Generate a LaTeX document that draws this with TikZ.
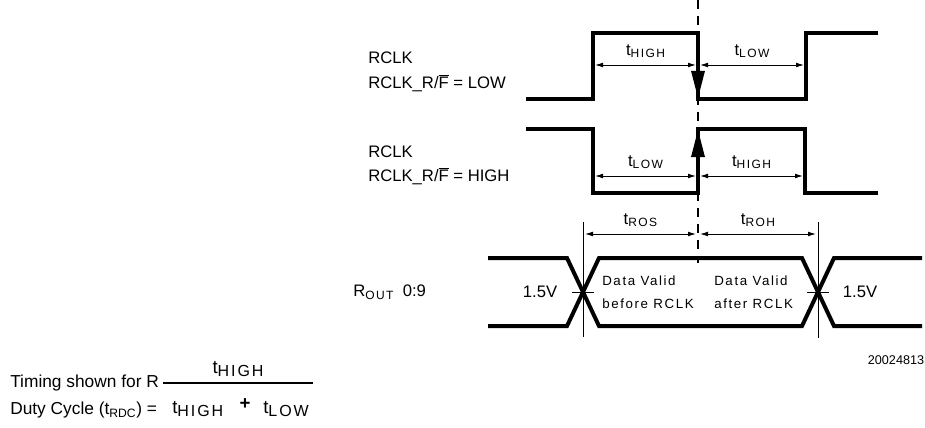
\documentclass[tikz,border=0pt]{standalone}
\usepackage{fontspec}
\setmainfont{Liberation Sans}
\newfontfamily\spacedfont[LetterSpace=12]{Liberation Sans}
\usepackage{tikz}
\usetikzlibrary{calc}
\usetikzlibrary{positioning}
\usetikzlibrary{arrows.meta}

\newcommand{\tsub}[1]{t\raisebox{-0.3ex}{\spacedfont\fontsize{9}{10}\selectfont #1}}
\newcommand{\tbig}[1]{t\raisebox{-0.25ex}{\spacedfont\fontsize{12}{14}\selectfont #1}}
\newcommand{\fbar}{$\overline{\mbox{F}}$}

\begin{document}
\begin{tikzpicture}[x=0.75pt, y=-0.75pt]

        \useasboundingbox (0,0) rectangle (925,428);

        % Looks of the waveforms, the timing arrows and the texts
        \tikzset{
            wave/.style={line width=3pt, line join=miter},
            dim/.style={line width=0.7pt, shorten <=1.5pt, shorten >=1.5pt,
                {Latex[length=6pt,width=3.6pt]}-{Latex[length=6pt,width=3.6pt]}},
            edgetip/.style={line width=3pt, -{Triangle[length=21pt,width=9.5pt]}},
            guide/.style={line width=0.6pt},
            lbl/.style={font=\fontsize{12.5}{15}\selectfont, inner sep=0pt},
            tlbl/.style={font=\fontsize{12.5}{15}\selectfont, inner sep=0pt, above=5pt}
        }

        % Scope used for the points of the three waveforms
        \begin{scope}
            \foreach \x/\y [count=\i from 0] in {526/99, 593/99, 593/33, 698/33,
                698/99, 806/99, 806/33, 878/33}
            \coordinate (A\i) at (\x,\y);
            \foreach \x/\y [count=\i from 0] in {526/129, 593/129, 593/193, 698/193,
                698/129, 805/129, 805/193, 878/193}
            \coordinate (B\i) at (\x,\y);
            \foreach \x/\y [count=\i from 0] in {488/258, 567/258, 599/326, 802/326,
                834/258, 922/258}
            \coordinate (P\i) at (\x,\y);
            \foreach \x/\y [count=\i from 0] in {488/326, 567/326, 599/258, 802/258,
                834/326, 922/326}
            \coordinate (Q\i) at (\x,\y);

            \coordinate (D0) at (698,0);
            \coordinate (D1) at (698,263);
            \coordinate (G1) at (583,222);
            \coordinate (G2) at (583,337);
            \coordinate (G3) at (818,222);
            \coordinate (G4) at (818,338);
            \coordinate (K1) at (572,292);
            \coordinate (K2) at (594,292);
            \coordinate (K3) at (807,292);
            \coordinate (K4) at (829,292);
        \end{scope}

        % Signal names
        \node (N1) [lbl, anchor=west] at (368,58) {RCLK};
        \node (N2) [lbl, anchor=west] at (368,83) {RCLK\_R/\fbar{} = LOW};
        \node (N3) [lbl, anchor=west] at (368,152) {RCLK};
        \node (N4) [lbl, anchor=west] at (368,176) {RCLK\_R/\fbar{} = HIGH};
        \node (N5) [lbl, anchor=west] at (353,292)
        {R\raisebox{-0.3ex}{\spacedfont\fontsize{9}{10}\selectfont OUT}\ \ 0:9};

        % Waveforms
        \begin{scope}[wave]
            \draw (A0) \foreach \i in {1,...,7} {-- (A\i)};
            \draw (B0) \foreach \i in {1,...,7} {-- (B\i)};
            \draw (P0) \foreach \i in {1,...,5} {-- (P\i)};
            \draw (Q0) \foreach \i in {1,...,5} {-- (Q\i)};
        \end{scope}
        \draw[edgetip] (A3) -- (A4);
        \draw[edgetip] (B3) -- (B4);

        % Reference lines
        \draw[line width=1.2pt, dash pattern=on 7pt off 5pt] (D0) -- (D1);
        \begin{scope}[guide]
            \draw (G1) -- (G2);
            \draw (G3) -- (G4);
            \draw (K1) -- (K2);
            \draw (K3) -- (K4);
        \end{scope}

        % Timing arrows
        \draw[dim] (A1 |- 0,65) -- node[tlbl] {\tsub{HIGH}} (A3 |- 0,65);
        \draw[dim] (A4 |- 0,65) -- node[tlbl] {\tsub{LOW}} (A5 |- 0,65);
        \draw[dim] (B1 |- 0,176) -- node[tlbl] {\tsub{LOW}} (B3 |- 0,176);
        \draw[dim] (B4 |- 0,176) -- node[tlbl] {\tsub{HIGH}} (B5 |- 0,176);
        \draw[dim] (G1 |- 0,234) -- node[tlbl] {\tsub{ROS}} (D0 |- 0,234);
        \draw[dim] (D0 |- 0,234) -- node[tlbl] {\tsub{ROH}} (G3 |- 0,234);

        % Texts on the data lines
        \node (V1) [lbl] at (540,292) {1.5V};
        \node (V2) [lbl] at (860,292) {1.5V};
        \node (DV1) [lbl, anchor=west, align=left,
            font=\spacedfont\fontsize{10}{17}\selectfont] at (602,292)
        {Data Valid\\before RCLK};
        \node (DV2) [lbl, anchor=west, align=left,
            font=\spacedfont\fontsize{10}{17}\selectfont] at (714,292)
        {Data Valid\\after RCLK};
        \node (ID) [font=\fontsize{9.5}{11}\selectfont, inner sep=0pt]
        at (896,360) {20024813};

        % Duty cycle formula
        \node (L1) [anchor=west, inner sep=0pt, font=\fontsize{13}{15}\selectfont]
        at (10,383) {Timing shown for R};
        \node (L2) [anchor=west, inner sep=0pt, font=\fontsize{13}{15}\selectfont]
        at (10,410) {Duty Cycle (t\textsubscript{RDC}) =};
        \coordinate (F0) at (163,383);
        \coordinate (F1) at (313,383);
        \draw[line width=1.1pt] (F0) -- (F1);
        \node (FN) [inner sep=0pt, font=\fontsize{14}{16}\selectfont]
        at (238,369) {\tbig{HIGH}};
        \node (FD1) [inner sep=0pt, anchor=west, font=\fontsize{14}{16}\selectfont]
        at (172,409) {\tbig{HIGH}};
        \node (FP) [inner sep=0pt, font=\fontsize{14}{16}\selectfont\bfseries]
        at (245,404) {+};
        \node (FD2) [inner sep=0pt, anchor=west, font=\fontsize{14}{16}\selectfont]
        at (263,409) {\tbig{LOW}};

\end{tikzpicture}
\end{document}
